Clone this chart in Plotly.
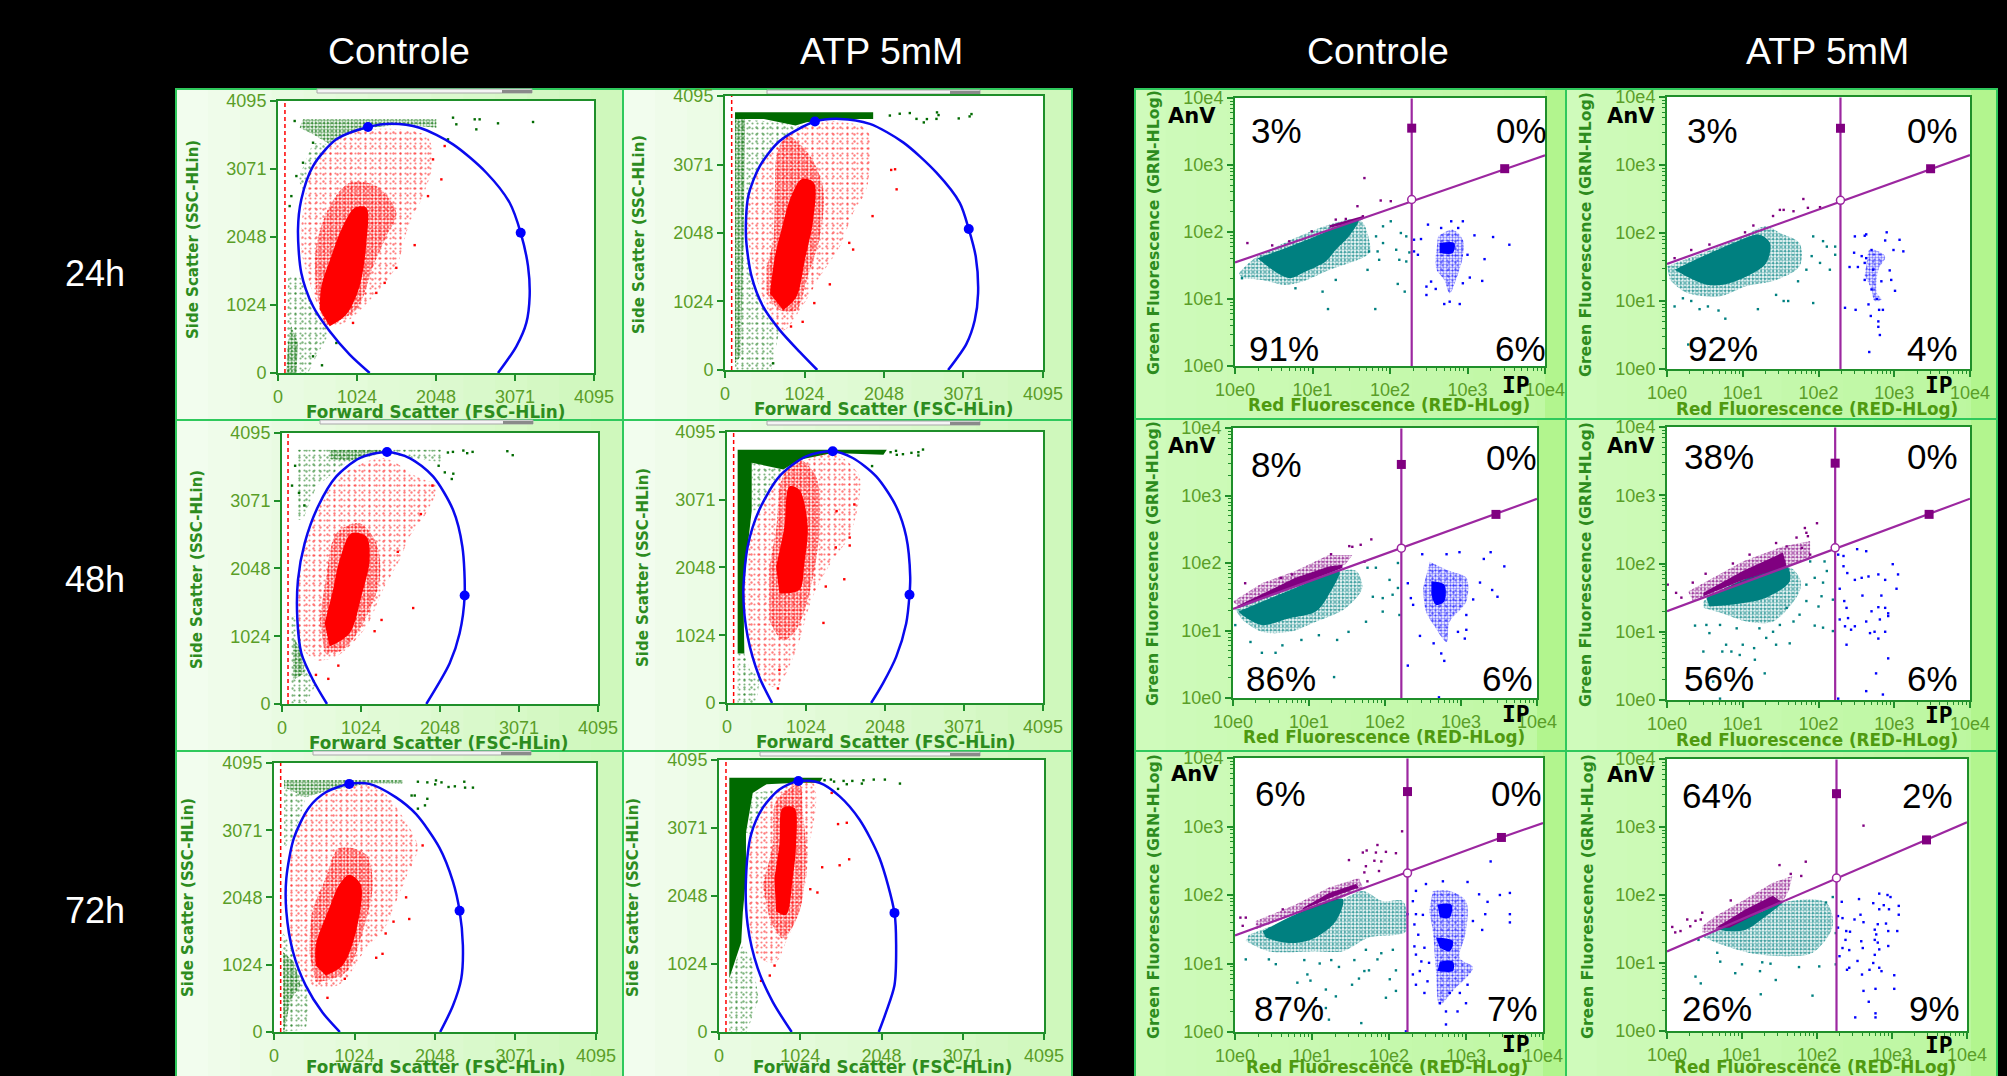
import plotly.graph_objects as go

W, H = 2007, 1076
row_labels = ["24h", "48h", "72h"]
col_labels = ["Controle", "ATP 5mM", "Controle", "ATP 5mM"]
lin_ticks = [0, 1024, 2048, 3071, 4095]
log_ticks = [1, 10, 100, 1000, 10000]
log_text = ["10e0", "10e1", "10e2", "10e3", "10e4"]

# ---------- Forward / side scatter panels: values in channel units ----------
S24C_gate = [(1188,0),(929,276),(670,628),(454,1005),(302,1507),(259,2161),(302,2613),(454,3116),(756,3518),(1166,3704),(1469,3754),(1836,3693),(2268,3442),(2700,3015),(3002,2563),(3145,2111),(3240,1608),(3261,1156),(3218,754),(3089,402),(2851,0)]
S24C_handles = [(1166,3704),(3145,2111)]
S24C_thresh = 90
S24C_core = [(670,703),(885,879),(1058,1307),(1145,1960),(1145,2487),(994,2487),(821,2161),(691,1759),(562,1307),(540,955)]
S24C_mid = [(605,703),(1015,955),(1231,1608),(1404,2060),(1533,2412),(1274,2814),(929,2864),(670,2513),(497,1910),(497,1206)]
S24C_outer = [(302,2211),(454,3116),(756,3518),(1188,3668),(1922,3568),(2009,3216),(1879,2663),(1706,2261),(1533,1608),(1274,1206),(929,804),(670,703),(454,1206),(302,1809)]
S24C_red = [(2117,2915),(2009,3216),(1944,2663),(1771,1925),(1533,1583),(1382,1357),(1274,1206),(972,754),(2160,3417)]
S24C_green_dense = []
S24C_green_mid = [[(324,3819),(2052,3819),(2052,3693),(1620,3744),(1188,3693),(842,3568),(670,3442),(454,3593),(281,3693)],[(108,0),(238,0),(259,452),(173,703),(130,452)]]
S24C_green_sparse = [[(454,3467),(670,3442),(497,3166),(324,2764),(259,2915)],[(130,1457),(281,1457),(454,1005),(670,603),(497,251),(389,0),(108,0)]]
S24C_green = [(2268,3844),(2311,3744),(2549,3819),(2613,3819),(2851,3759),(3305,3779),(2570,3668),(2203,3518),(756,452),(570,116),(454,251),(151,2513),(238,2965),(324,3166),(454,3467),(216,3794),(173,2663)]

S24A_gate = [(1188,0),(965,266),(708,592),(493,943),(343,1395),(270,1997),(300,2600),(450,3051),(708,3427),(1158,3713),(1479,3753),(1865,3678),(2294,3402),(2723,2950),(3023,2499),(3139,2107),(3229,1696),(3259,1144),(3216,743),(3109,391),(2873,0)]
S24A_handles = [(1158,3713),(3139,2107)]
S24A_thresh = 86
S24A_core = [(750,893),(921,1094),(1029,1646),(1136,2248),(1145,2800),(986,2850),(836,2549),(750,2198),(643,1696),(579,1144)]
S24A_mid = [(536,1144),(708,893),(921,893),(1051,1345),(1222,1997),(1265,2700),(1094,3202),(793,3503),(665,3202),(643,2700),(622,1947),(536,1546)]
S24A_outer = [(300,2600),(450,3051),(708,3427),(1158,3703),(1822,3603),(1865,3252),(1822,2700),(1651,2348),(1479,1847),(1222,1395),(965,893),(750,592),(536,943),(365,1546),(270,2098)]
S24A_red = [(2190,3000),(2210,2700),(2140,2990),(1900,2300),(1650,1800),(1600,1900),(1350,1280),(1150,1000),(850,650),(1000,720)]
S24A_green_dense = [[(129,3853),(1908,3853),(1908,3753),(1394,3753),(1050,3703),(908,3653),(500,3753),(129,3753)]]
S24A_green_mid = [[(129,3750),(260,3750),(240,2000),(220,1000),(200,200),(129,100)]]
S24A_green_sparse = [[(129,3750),(1000,3680),(700,3430),(450,3050),(300,2600),(270,2000),(340,1400),(490,940),(700,600),(600,0),(129,0)]]
S24A_green = [(2123,3803),(2250,3830),(2380,3840),(2466,3753),(2560,3700),(2600,3750),(2723,3753),(2750,3810),(2730,3850),(3010,3760),(3150,3790),(3174,3825),(620,100)]

S48C_gate = [(583,0),(402,363),(251,767),(199,1271),(207,1876),(294,2431),(467,2985),(704,3439),(1007,3717),(1361,3807),(1654,3717),(1957,3439),(2216,2935),(2337,2380),(2367,1639),(2302,1069),(2173,615),(1870,0)]
S48C_handles = [(1361,3807),(2367,1639)]
S48C_thresh = 78
S48C_core = [(618,867),(877,1069),(1028,1624),(1136,2179),(1093,2531),(898,2582),(747,2179),(661,1725),(553,1220)]
S48C_mid = [(553,767),(790,817),(1050,1220),(1266,1876),(1222,2431),(1007,2733),(704,2582),(575,1926),(488,1271)]
S48C_outer = [(250,2279),(488,2985),(747,3439),(1309,3717),(1741,3439),(2000,3288),(1870,2885),(1654,2531),(1525,2179),(1309,1725),(1093,1170),(704,716),(445,666),(250,867),(207,1775)]
S48C_red = [(1700,1450),(1290,1270),(1500,2300),(1950,3300),(1800,2870),(440,440),(600,380),(730,580),(1200,1100)]
S48C_green_dense = []
S48C_green_mid = [[(620,3840),(1300,3840),(1300,3800),(900,3680),(620,3700)],[(142,1018),(250,817),(294,464),(142,363)]]
S48C_green_sparse = [[(186,3843),(2086,3843),(2086,3641),(1309,3792),(833,3641),(445,3288),(272,2784),(186,2784)],[(121,1321),(207,1321),(272,667),(445,313),(315,10),(121,10)]]
S48C_green = [(2150,3800),(2215,3810),(2350,3830),(2400,3790),(2470,3810),(2920,3820),(2990,3760),(2220,3480),(2110,3500),(2200,3400),(2030,3600),(170,3600),(130,3300),(220,3190),(290,3000)]

S48A_gate = [(584,0),(419,394),(268,1000),(212,1657),(268,2364),(419,2919),(679,3424),(1025,3727),(1370,3803),(1630,3702),(1933,3424),(2192,2970),(2322,2515),(2374,1909),(2365,1636),(2322,1202),(2192,697),(2019,293),(1868,0)]
S48A_handles = [(1370,3803),(2365,1636)]
S48A_thresh = 86
S48A_core = [(679,1657),(938,1707),(1003,2111),(1046,2667),(938,3222),(808,3273),(744,2667),(636,2061)]
S48A_mid = [(549,1252),(722,949),(895,1101),(1068,1657),(1198,2616),(1154,3424),(938,3677),(722,3424),(636,2616),(549,2061)]
S48A_outer = [(268,2364),(419,2919),(679,3424),(1370,3778),(1717,3424),(1717,3121),(1587,2515),(1370,2162),(1111,1606),(895,798),(636,242),(419,394),(268,1000),(212,1657)]
S48A_red = [(1520,1870),(1280,1760),(1250,1210),(1410,2350),(1590,2380),(1590,2500),(1420,2900),(1650,3000),(680,500),(660,220)]
S48A_green_dense = [[(138,3828),(2071,3828),(2027,3752),(1370,3778),(938,3677),(730,3530),(320,3630),(320,2900),(268,2364),(212,1657),(225,747),(138,747)]]
S48A_green_mid = []
S48A_green_sparse = [[(320,3630),(730,3530),(419,2919),(320,2900)],[(138,747),(225,747),(300,500),(430,400),(380,0),(138,0)]]
S48A_green = [(2120,3790),(2200,3750),(2190,3810),(2280,3760),(2390,3780),(2480,3790),(2480,3740),(2540,3830),(1880,3580)]

S72C_gate = [(838,0),(617,297),(404,706),(242,1218),(157,1832),(157,2344),(255,2958),(446,3419),(659,3649),(957,3777),(1212,3777),(1552,3572),(1807,3316),(2105,2804),(2275,2293),(2360,1847),(2402,1320),(2381,809),(2275,399),(2113,0)]
S72C_handles = [(957,3777),(2360,1847)]
S72C_thresh = 85
S72C_core = [(659,860),(872,1013),(1042,1523),(1105,2242),(957,2395),(829,2242),(702,1883),(531,1320),(531,1013)]
S72C_mid = [(531,757),(914,911),(1127,1523),(1254,2242),(1169,2702),(829,2804),(659,2344),(489,1832),(446,1220)]
S72C_outer = [(191,2600),(361,3218),(659,3623),(1297,3726),(1722,3111),(1828,2804),(1679,2344),(1552,1986),(1382,1525),(1169,1269),(872,757),(574,655),(361,911),(191,1576),(170,2088)]
S72C_red = [(1720,1720),(1380,1190),(1300,1130),(1520,1680),(1420,1500),(1680,2050),(680,520),(900,810),(1890,2840)]
S72C_green_dense = []
S72C_green_mid = [[(128,3838),(1637,3838),(1637,3777),(1212,3787),(659,3670),(404,3572),(128,3726)],[(115,1218),(255,1064),(340,706),(212,500),(128,0),(115,0)]]
S72C_green_sparse = [[(128,3726),(404,3572),(255,2958),(128,2800)],[(106,1525),(212,1320),(404,706),(446,400),(404,40),(128,0)]]
S72C_green = [(1830,3810),(1950,3800),(2050,3770),(2060,3830),(2130,3800),(2220,3730),(2300,3740),(2430,3720),(2530,3720),(2420,3810),(1830,3400),(1750,3600),(1950,3550),(1920,3450),(1790,3600)]

S72A_gate = [(916,0),(677,453),(488,957),(361,1612),(340,2317),(404,2972),(551,3375),(761,3652),(1000,3778),(1265,3753),(1517,3552),(1770,3199),(2022,2620),(2211,1793),(2232,1310),(2211,705),(2106,302),(2013,0)]
S72A_handles = [(1000,3778),(2211,1793)]
S72A_thresh = 88
S72A_core = [(719,1814),(845,1763),(929,2317),(971,2821),(950,3375),(803,3375),(761,2821),(698,2317)]
S72A_mid = [(635,1713),(803,1411),(1013,1814),(1097,2670),(1055,3325),(1013,3728),(719,3476),(677,2821),(551,2216)]
S72A_outer = [(361,2317),(425,2972),(719,3627),(1181,3753),(1223,3426),(1139,2821),(1097,2317),(1013,1814),(845,1360),(719,1058),(509,1108),(383,1612)]
S72A_red = [(1610,3150),(1500,3130),(1640,2600),(1520,2510),(1300,2480),(1240,2100),(1150,2150),(700,1000),(640,850),(530,770),(1420,3600)]
S72A_green_dense = [[(130,3829),(1307,3829),(1265,3753),(1000,3753),(600,3730),(425,3600),(340,3000),(340,2317),(300,1800),(280,1350),(130,811)]]
S72A_green_mid = []
S72A_green_sparse = [[(425,3600),(761,3652),(551,3375),(404,2972),(340,3000)],[(130,811),(290,1300),(420,1100),(500,500),(350,0),(130,0)]]
S72A_green = [(1330,3790),(1410,3800),(1450,3770),(1570,3780),(1610,3730),(1680,3780),(1800,3740),(1820,3790),(1950,3800),(2090,3800),(2280,3740),(1500,3660)]

# ---------- Fluorescence panels: values are decades (log10 of the channel) ----------
F24C_vert = (2.28, 3.55, 2.485)
F24C_diag = [(0,1.545),(3.48,2.945),(4,3.145)]
F24C_teal_core = [(.29,1.61),(.655,1.76),(1.04,1.935),(1.43,2.135),(1.60,2.185),(1.47,1.935),(1.30,1.735),(1.17,1.56),(.91,1.41),(.70,1.31),(.48,1.435)]
F24C_teal_mid = [(.05,1.385),(.29,1.635),(1.60,2.185),(1.73,1.885),(1.73,1.685),(1.22,1.435),(.87,1.26),(.655,1.21),(.35,1.285),(.09,1.31)]
F24C_teal = [(1.91,2.085),(2.01,2.16),(1.82,1.935),(1.91,1.835),(1.84,1.71),(1.73,1.71),(2.08,1.735),(2.14,1.985),(2.21,1.935),(2.25,1.695),(2.12,1.585),(2.21,1.56),(2.10,1.225),(2.19,1.11),(1.81,.85),(1.20,.85),(1.30,1.285),(1.13,1.11),(.78,1.16),(1.71,1.435),(1.86,1.585),(.09,1.31)]
F24C_purple_core = [(1.22,2.06),(1.22,2.10),(1.65,2.24),(1.65,2.19)]
F24C_purple_mid = []
F24C_purple = [(.16,1.835),(.48,1.8),(.99,2.01),(1.30,2.185),(1.67,2.805),(1.88,2.47),(2.01,2.46),(1.58,2.385),(1.65,2.235),(1.43,2.195),(.70,1.86)]
F24C_blue_core = [(2.64,1.835),(2.83,1.835),(2.81,1.685),(2.64,1.685)]
F24C_blue_mid = [(2.62,1.935),(2.81,2.035),(2.94,1.885),(2.94,1.635),(2.85,1.285),(2.77,1.085),(2.70,1.285),(2.60,1.435),(2.59,1.635)]
F24C_blue = [(2.49,2.11),(2.66,2.06),(2.79,2.16),(2.94,2.16),(2.88,2.06),(3.09,1.95),(3.33,1.925),(3.54,1.81),(3.0,1.66),(3.22,1.595),(3.19,1.27),(3.03,1.32),(2.94,1.235),(2.53,1.26),(2.47,1.185),(2.47,1.06),(2.59,1.15),(2.70,.925),(2.77,.96),(2.90,.925),(2.31,1.885),(2.40,1.895),(2.36,1.66),(2.31,1.71)]

F24A_vert = (2.29, 3.54, 2.48)
F24A_diag = [(0,1.545),(3.48,2.945),(4,3.145)]
F24A_teal_core = [(.10,1.46),(.48,1.66),(.87,1.85),(1.22,1.975),(1.36,1.85),(1.31,1.56),(1.05,1.36),(.74,1.24),(.52,1.24),(.26,1.36)]
F24A_teal_mid = [(0,1.51),(.92,1.90),(1.31,2.10),(1.49,2.0),(1.75,1.85),(1.75,1.51),(1.44,1.31),(1.05,1.22),(.70,1.07),(.26,1.12),(.04,1.31)]
F24A_teal = [(.10,.92),(.21,1.04),(.32,1.0),(.43,.88),(.54,.92),(.68,.86),(.77,.74),(1.20,.88),(1.44,1.09),(1.54,1.0),(1.60,1.0),(1.93,.97),(1.93,1.95),(2.06,1.88),(2.11,1.80),(2.22,1.80),(1.91,1.66),(2.02,1.56),(2.15,1.46),(1.84,1.46),(1.73,1.29),(2.22,1.68),(.28,.36)]
F24A_purple_core = []
F24A_purple_mid = []
F24A_purple = [(.10,1.63),(.32,1.75),(.56,1.83),(1.03,2.01),(1.14,2.11),(1.40,2.25),(1.49,2.34),(1.54,2.34),(1.67,2.32),(1.86,2.37),(1.80,2.50),(2.02,2.38)]
F24A_blue_core = []
F24A_blue_mid = [(2.66,1.75),(2.75,1.75),(2.88,1.65),(2.79,1.46),(2.77,1.12),(2.83,1.02),(2.74,1.0),(2.70,1.17),(2.61,1.37)]
F24A_blue = [(2.48,1.95),(2.61,1.96),(2.63,1.98),(2.90,2.01),(2.88,1.89),(3.07,1.90),(2.99,1.75),(3.12,1.73),(2.47,1.71),(2.57,1.66),(2.63,1.63),(2.41,1.5),(2.52,1.5),(2.61,1.56),(2.72,1.46),(2.70,1.75),(2.61,1.31),(2.83,1.29),(2.96,1.31),(3.01,1.15),(2.94,1.45),(2.35,.90),(2.49,.87),(2.66,.95),(2.69,.78),(2.79,.70),(2.79,.62),(2.81,.50),(2.67,.25),(2.80,.87),(2.85,.87),(2.77,1.03),(2.70,1.17)]

F48C_vert = (2.215, 3.46, 2.22)
F48C_diag = [(0,1.32),(3.46,2.72),(4,2.95)]
F48C_teal_core = [(.07,1.28),(.82,1.63),(1.40,1.88),(1.26,1.53),(1.09,1.28),(.74,1.18),(.38,1.08),(.12,1.23)]
F48C_teal_mid = [(.03,1.31),(1.40,1.88),(1.62,1.88),(1.70,1.63),(1.48,1.33),(1.09,1.13),(.74,.98),(.38,.98),(.12,1.16)]
F48C_teal = [(1.77,1.93),(1.88,1.93),(2.06,1.75),(2.17,2.0),(2.17,1.63),(2.10,1.53),(1.97,1.48),(1.84,1.50),(1.97,1.28),(1.75,1.13),(1.52,.98),(1.37,.86),(1.13,.93),(.90,.86),(.65,.78),(.56,.67),(.38,.67),(.23,.83),(1.33,.31),(2.19,1.23),(.03,1.08)]
F48C_purple_core = [(.07,1.37),(.82,1.78),(1.26,1.95),(1.44,1.975),(1.44,1.925),(.07,1.33)]
F48C_purple_mid = [(0,1.43),(.38,1.70),(.82,1.88),(1.26,2.12),(1.57,2.12),(1.48,1.98),(.07,1.35)]
F48C_purple = [(.16,1.70),(.63,1.78),(.78,1.83),(1.29,2.13),(1.53,2.25),(1.57,2.24),(1.68,2.27),(1.82,2.35),(1.73,2.02)]
F48C_blue_core = [(2.61,1.73),(2.78,1.68),(2.78,1.43),(2.67,1.38),(2.61,1.53)]
F48C_blue_mid = [(2.59,2.02),(2.85,1.88),(3.07,1.78),(3.07,1.43),(2.85,1.13),(2.81,.83),(2.67,1.03),(2.54,1.28),(2.50,1.63)]
F48C_blue = [(2.49,2.13),(2.81,2.13),(2.98,2.16),(3.25,1.71),(3.30,2.06),(3.39,2.16),(3.57,1.95),(3.41,1.60),(3.48,1.50),(3.16,1.46),(2.30,1.70),(2.34,1.48),(2.37,1.38),(2.46,.92),(2.64,.81),(2.74,.66),(2.78,.55),(2.30,.48),(2.71,.01),(2.96,.98),(3.07,1.01),(3.05,.88),(3.07,1.23)]

F48A_vert = (2.22, 3.47, 2.23)
F48A_diag = [(0,1.30),(3.46,2.72),(4,2.95)]
F48A_teal_core = [(.52,1.50),(1.0,1.76),(1.58,1.96),(1.62,1.74),(1.31,1.50),(.87,1.40),(.56,1.37)]
F48A_teal_mid = [(.48,1.45),(1.58,1.96),(1.75,1.79),(1.75,1.59),(1.40,1.15),(1.05,1.15),(.78,1.25),(.48,1.35)]
F48A_teal = [(.37,1.09),(.52,1.10),(.56,.98),(.48,.71),(.73,.71),(.78,.81),(.85,.71),(.96,.66),(1.0,.81),(1.16,.59),(1.29,.39),(1.15,.76),(1.44,.81),(1.62,.83),(1.40,1.0),(1.31,.91),(1.49,1.10),(1.67,1.15),(1.75,1.25),(1.84,1.45),(1.95,1.79),(1.84,1.69),(2.06,1.72),(2.11,1.89),(2.08,2.03),(1.89,2.03),(2.04,1.52),(2.0,1.37),(1.95,1.09),(2.06,1.06),(2.19,1.01),(.61,.27),(.70,.02),(2.19,1.47),(1.58,1.35),(1.22,1.05),(.92,1.05),(.70,1.10)]
F48A_purple_core = [(.48,1.57),(1.0,1.89),(1.53,2.16),(1.58,1.96),(1.0,1.76),(.48,1.52)]
F48A_purple_mid = [(.28,1.59),(.61,1.79),(1.0,2.03),(1.53,2.25),(1.89,2.33),(1.89,2.08),(1.58,1.96),(.34,1.45)]
F48A_purple = [(.01,1.69),(.12,1.57),(.19,1.50),(.34,1.72),(.51,1.85),(1.09,2.13),(.87,2.0),(1.44,2.30),(1.58,2.25),(1.71,2.38),(1.82,2.52),(1.98,2.59),(1.86,2.40),(1.78,2.23),(1.89,2.13),(1.84,2.45)]
F48A_blue_core = []
F48A_blue_mid = []
F48A_blue = [(2.26,2.13),(2.33,2.11),(2.33,1.96),(2.38,1.86),(2.51,2.21),(2.63,2.18),(2.48,1.76),(2.57,1.79),(2.66,1.81),(2.79,1.84),(2.88,1.76),(2.98,1.99),(3.05,1.84),(3.03,1.63),(2.83,1.53),(2.58,1.53),(2.28,1.63),(2.34,1.45),(2.37,1.35),(2.39,1.20),(2.28,1.18),(2.35,1.08),(2.43,1.03),(2.48,1.08),(2.37,.81),(2.63,1.15),(2.70,1.30),(2.79,1.36),(2.92,1.27),(2.92,1.23),(2.88,1.35),(2.81,1.18),(2.68,.98),(2.74,1.0),(2.79,.90),(2.88,1.0),(2.92,.61),(2.76,.39),(2.63,.13),(2.85,.08),(2.26,.02)]

F72C_vert = (2.24, 3.51, 2.32)
F72C_diag = [(0,1.41),(3.46,2.84),(4,3.05)]
F72C_teal_core = [(.36,1.47),(.79,1.72),(1.40,1.94),(1.31,1.62),(1.05,1.38),(.79,1.30),(.53,1.33),(.40,1.38)]
F72C_teal_mid = [(.18,1.42),(1.40,1.94),(1.66,2.06),(1.92,1.91),(2.18,1.91),(2.22,1.47),(1.74,1.38),(1.40,1.18),(1.05,1.18),(.44,1.18),(.14,1.33)]
F72C_teal = [(.14,1.06),(.44,1.06),(.53,.99),(.81,.72),(.94,.84),(.98,.75),(1.18,.62),(1.31,.52),(1.52,.69),(1.61,.78),(1.68,.89),(2.01,.77),(1.96,.50),(2.09,.60),(1.64,.13),(1.22,.18),(1.18,.35),(1.05,.47),(2.09,.90),(1.74,.90),(1.85,1.06),(1.10,1.0),(1.25,1.05),(1.35,.95),(1.55,1.05),(.9,1.05),(1.7,1.2),(1.9,1.15),(2.05,1.2)]
F72C_purple_core = [(.88,1.81),(1.22,2.03),(1.57,2.16),(1.61,2.11),(1.31,1.99),(.88,1.79)]
F72C_purple_mid = [(.27,1.62),(.79,1.86),(1.22,2.11),(1.61,2.25),(1.66,2.11),(1.40,1.96),(.79,1.72),(.27,1.50)]
F72C_purple = [(.07,1.67),(.14,1.67),(.10,1.55),(.62,1.79),(1.48,2.51),(1.66,2.62),(1.71,2.65),(1.85,2.73),(1.83,2.62),(1.96,2.63),(2.09,2.61),(1.90,2.49),(1.81,2.50),(1.70,2.42),(1.68,2.33),(1.72,2.20),(2.17,2.93),(1.87,2.35)]
F72C_blue_core = [(2.63,1.86),(2.81,1.86),(2.79,1.67),(2.66,1.67),None,(2.61,1.38),(2.83,1.33),(2.79,1.18),(2.66,1.23),None,(2.66,1.03),(2.83,1.03),(2.83,.89),(2.63,.89)]
F72C_blue_mid = [(2.57,2.06),(2.79,2.06),(3.0,1.91),(3.0,1.47),(2.92,1.08),(3.09,.94),(2.83,.60),(2.66,.40),(2.61,.89),(2.57,1.47),(2.52,1.77)]
F72C_blue = [(2.31,1.91),(2.35,2.06),(2.48,2.16),(2.70,2.20),(3.02,2.19),(3.17,2.01),(3.28,1.90),(3.44,2.0),(3.57,2.03),(3.32,2.49),(3.57,1.72),(3.57,1.60),(3.21,1.49),(3.25,1.72),(3.09,1.62),(2.24,1.72),(2.35,1.72),(2.44,1.71),(2.33,1.57),(2.38,1.42),(2.33,1.25),(2.46,1.23),(2.35,1.13),(2.42,1.03),(2.52,1.01),(2.31,.84),(2.40,.89),(2.50,.74),(2.35,.69),(2.46,.57),(2.66,.42),(2.74,.30),(2.74,.11),(2.89,.30),(3.0,.42),(2.92,.57),(3.02,.69),(2.79,.57),(2.22,.01)]

F72A_vert = (2.26, 3.49, 2.25)
F72A_diag = [(0,1.17),(3.46,2.81),(4,3.07)]
F72A_teal_core = [(.69,1.49),(1.23,1.74),(1.54,1.89),(1.32,1.69),(1.05,1.49),(.78,1.47)]
F72A_teal_mid = [(.47,1.39),(1.54,1.89),(2.12,1.89),(2.21,1.54),(1.94,1.15),(1.58,1.10),(1.09,1.15),(.65,1.30)]
F72A_teal = [(.38,.80),(.45,.70),(.67,1.15),(.71,1.02),(.91,.85),(1.0,.98),(1.24,.88),(1.27,1.01),(1.38,.99),(1.25,.54),(1.45,.75),(1.76,.94),(1.94,.52),(2.03,.95),(2.25,.98),(2.21,1.97),(2.12,1.89),(.42,1.34),(2.25,1.44)]
F72A_purple_core = [(.65,1.52),(1.05,1.79),(1.41,1.99),(1.54,1.89),(1.23,1.74),(.83,1.52)]
F72A_purple_mid = [(.47,1.54),(.65,1.69),(1.05,1.94),(1.41,2.18),(1.67,2.28),(1.63,2.08),(1.54,1.89),(.69,1.49),(.47,1.44)]
F72A_purple = [(.07,1.53),(.11,1.45),(.18,1.47),(.27,1.64),(.31,1.54),(.38,1.62),(.47,1.74),(.45,1.64),(.85,1.92),(1.50,2.44),(1.85,2.49),(1.79,2.28),(1.65,2.31),(2.62,3.02)]
F72A_blue_core = []
F72A_blue_mid = []
F72A_blue = [(2.33,1.90),(2.28,1.69),(2.34,1.66),(2.50,1.64),(2.56,1.94),(2.75,1.88),(2.83,2.02),(2.94,2.0),(2.98,1.97),(2.89,1.85),(2.83,1.79),(2.96,1.79),(3.09,1.84),(3.09,1.71),(2.58,1.71),(2.62,1.60),(2.77,1.49),(2.81,1.57),(2.92,1.58),(2.95,1.47),(3.07,1.47),(2.28,1.52),(2.39,1.47),(2.44,1.46),(2.38,1.34),(2.59,1.32),(2.77,1.34),(2.79,1.42),(2.81,1.30),(2.61,1.22),(2.34,1.22),(2.43,1.19),(2.30,1.10),(2.54,1.03),(2.43,.93),(2.40,.90),(2.60,.83),(2.70,.90),(2.77,1.12),(2.83,1.20),(2.95,1.25),(2.75,1.0),(2.83,.93),(2.86,.88),(3.03,.82),(3.03,.62),(2.78,.62),(2.62,.59),(2.69,.43),(2.51,.20),(2.78,.26),(2.78,.20)]

pct_F24C = ["3%", "0%", "91%", "6%"]
pct_F24A = ["3%", "0%", "92%", "4%"]
pct_F48C = ["8%", "0%", "86%", "6%"]
pct_F48A = ["38%", "0%", "56%", "6%"]
pct_F72C = ["6%", "0%", "87%", "7%"]
pct_F72A = ["64%", "2%", "26%", "9%"]

# ---------- styles and layout in page pixels ----------
RED, GATE, DGREEN, TEAL, PURPLE, BLUE = "#ff0000", "#0a0aee", "#006a00", "#008080", "#800080", "#0000ff"
AXIS = "#1f8f2a"
TICKC = "#5a9e28"
TITLEC = "#2d8c1e"
LAB = "Liberation Sans"

fig = go.Figure()
shapes, anns = [], []
n_ax = 0

def P(x, y):
    return x / W, 1 - y / H

def text(s, x, y, size, color, family=LAB, bold=False, angle=0):
    px_, py_ = P(x, y)
    anns.append(dict(text=f"<b>{s}</b>" if bold else s, x=px_, y=py_, xref="paper", yref="paper",
                     showarrow=False, xanchor="center", yanchor="middle",
                     font=dict(size=size, color=color, family=family), textangle=angle))

def rect_shape(x0, x1, y0, y1, fill, line=None):
    pa, pb = P(x0, y0), P(x1, y1)
    shapes.append(dict(type="rect", xref="paper", yref="paper", x0=pa[0], x1=pb[0], y0=pb[1], y1=pa[1],
                       fillcolor=fill, line=line or dict(width=0), layer="below"))

def background(x0, x1, y0, y1, c0, c1, plot_right=None, strip=None):
    n = 14
    def mix(t):
        a = [int(c0[i:i+2], 16) for i in (1, 3, 5)]
        b = [int(c1[i:i+2], 16) for i in (1, 3, 5)]
        return "rgb(%d,%d,%d)" % tuple(a[k] + (b[k] - a[k]) * t for k in range(3))
    for i in range(n):
        rect_shape(x0 + (x1 - x0) * i / n, x0 + (x1 - x0) * (i + 1) / n + 1, y0, y1, mix(i / (n - 1)))
    if strip:
        rect_shape(plot_right, x1, y0, y1, strip)
    rect_shape(x0, x1, y0, y1, "rgba(0,0,0,0)", dict(color="#2fc95c", width=2))

def scrollbar(x0, x1, y):
    rect_shape(x0, x1, y, y + 4, "#f4f4f4", dict(color="#a8a8a8", width=1))
    rect_shape(x1 - 30, x1, y + 1, y + 4, "#8a8a8a")

def new_axes(rect, log):
    global n_ax
    n_ax += 1
    L, T, R, B = rect
    rect_shape(L, R, T, B, "white")
    common = dict(showgrid=False, zeroline=False, showline=True, mirror=True, linecolor=AXIS, linewidth=2,
                  ticks="outside", ticklen=6, tickwidth=1.5, tickcolor=AXIS,
                  tickfont=dict(size=18, color=TICKC, family=LAB), tickangle=0)
    if log:
        minors = [k * 10 ** e for e in range(4) for k in range(2, 10)]
        common.update(type="log", range=[0, 4], tickmode="array", tickvals=log_ticks, ticktext=log_text,
                      minor=dict(tickmode="array", tickvals=minors, ticks="outside", ticklen=3, tickcolor=AXIS, tickwidth=1))
    else:
        common.update(range=[0, 4095], tickmode="array", tickvals=lin_ticks, ticktext=[str(t) for t in lin_ticks])
    key = "" if n_ax == 1 else str(n_ax)
    fig.layout["xaxis" + key] = dict(common, domain=[L / W, R / W], anchor="y" + key)
    fig.layout["yaxis" + key] = dict(common, domain=[1 - B / H, 1 - T / H], anchor="x" + key)
    return "x" + key, "y" + key

def join(polys):
    xs, ys = [], []
    for poly in polys:
        for p in poly:
            if p is None:
                xs.append(None); ys.append(None)
            else:
                xs.append(p[0]); ys.append(p[1])
        xs.append(None); ys.append(None)
    return xs, ys

def area(polys, color, ax, patterns=None, log=False, smooth=True):
    xs, ys = join(polys)
    if not [v for v in xs if v is not None]:
        return
    if log:
        xs = [None if v is None else 10 ** v for v in xs]
        ys = [None if v is None else 10 ** v for v in ys]
    line = dict(width=0, color=color, shape="spline", smoothing=.9) if smooth else dict(width=0, color=color)
    for pat in (patterns or [None]):
        kw = dict(fillcolor=color) if pat is None else dict(
            fillcolor="rgba(0,0,0,0)",
            fillpattern=dict(shape=".", fgcolor=color, bgcolor="rgba(0,0,0,0)", size=pat[0], solidity=pat[1], fillmode="overlay"))
        fig.add_trace(go.Scatter(x=xs, y=ys, mode="lines", line=line, fill="toself",
                                 xaxis=ax[0], yaxis=ax[1], hoverinfo="skip", showlegend=False, **kw))

def dots(pts, color, ax, size=2.4, log=False):
    if not pts:
        return
    xs = [p[0] for p in pts]; ys = [p[1] for p in pts]
    if log:
        xs = [10 ** v for v in xs]; ys = [10 ** v for v in ys]
    fig.add_trace(go.Scatter(x=xs, y=ys, mode="markers", marker=dict(size=size, color=color, symbol="square", line_width=0),
                             xaxis=ax[0], yaxis=ax[1], hoverinfo="skip", showlegend=False))

SPARSE = [(7, .09), (5, .15)]
MID = [(3, .50), (4, .30)]

def scatter_panel(rect, xt, yt, gate, handles, thresh, core, mid, outer, red, gd, gm, gs, gp):
    ax = new_axes(rect, False)
    fig.add_trace(go.Scatter(x=[thresh, thresh], y=[0, 4095], mode="lines", line=dict(color=RED, width=1.5, dash="4px,3px"),
                             xaxis=ax[0], yaxis=ax[1], hoverinfo="skip", showlegend=False))
    area(gs, DGREEN, ax, SPARSE, smooth=False)
    area(gm, DGREEN, ax, MID, smooth=False)
    area(gd, DGREEN, ax, smooth=False)
    dots(gp, DGREEN, ax)
    area([outer], RED, ax, SPARSE)
    area([mid], RED, ax, MID)
    area([core], RED, ax)
    dots(red, RED, ax)
    fig.add_trace(go.Scatter(x=[p[0] for p in gate], y=[p[1] for p in gate], mode="lines",
                             line=dict(color=GATE, width=2.5, shape="spline", smoothing=.8),
                             xaxis=ax[0], yaxis=ax[1], hoverinfo="skip", showlegend=False))
    fig.add_trace(go.Scatter(x=[p[0] for p in handles], y=[p[1] for p in handles], mode="markers",
                             marker=dict(size=10, color=BLUE), xaxis=ax[0], yaxis=ax[1], hoverinfo="skip", showlegend=False))
    text("Forward Scatter (FSC-HLin)", xt[0], min(xt[1], 1067), 16.8, TITLEC, "DejaVu Sans", True)
    text("Side Scatter (SSC-HLin)", yt[0], yt[1], 15, TITLEC, "DejaVu Sans", True, -90)

def fluor_panel(rect, xt, yt, anv, ip, pct, pct_pos, vert, diag, tc, tm, tp, pc, pm, pp, bc, bm, bp):
    ax = new_axes(rect, True)
    area([tm], TEAL, ax, MID, log=True)
    area([tc], TEAL, ax, log=True)
    dots(tp, TEAL, ax, log=True)
    area([pm], PURPLE, ax, MID, log=True, smooth=False)
    area([pc], PURPLE, ax, log=True, smooth=False)
    dots(pp, PURPLE, ax, log=True)
    area([bm], BLUE, ax, SPARSE + MID[:1], log=True)
    area([bc], BLUE, ax, log=True)
    dots(bp, BLUE, ax, log=True)
    line = dict(color="#9c27a0", width=2.2)
    fig.add_trace(go.Scatter(x=[10 ** vert[0]] * 2, y=[1, 9800], mode="lines", line=line, xaxis=ax[0], yaxis=ax[1], hoverinfo="skip", showlegend=False))
    fig.add_trace(go.Scatter(x=[10 ** p[0] for p in diag], y=[10 ** p[1] for p in diag], mode="lines", line=line, xaxis=ax[0], yaxis=ax[1], hoverinfo="skip", showlegend=False))
    fig.add_trace(go.Scatter(x=[10 ** vert[0], 10 ** diag[1][0]], y=[10 ** vert[1], 10 ** diag[1][1]], mode="markers",
                             marker=dict(size=9, color=PURPLE, symbol="square"), xaxis=ax[0], yaxis=ax[1], hoverinfo="skip", showlegend=False))
    fig.add_trace(go.Scatter(x=[10 ** vert[0]], y=[10 ** vert[2]], mode="markers",
                             marker=dict(size=8, color="white", line=dict(color="#9c27a0", width=1.5)), xaxis=ax[0], yaxis=ax[1], hoverinfo="skip", showlegend=False))
    text("Red Fluorescence (RED-HLog)", xt[0], min(xt[1], 1067), 16.8, "#4f9a10", "DejaVu Sans", True)
    text("Green Fluorescence (GRN-HLog)", yt[0], yt[1], 15.7, TITLEC, "DejaVu Sans", True, -90)
    text("AnV", anv[0], anv[1], 21, "black", "DejaVu Sans", True)
    text("IP", ip[0], ip[1], 23, "black", "DejaVu Sans Mono", True)
    for s, p in zip(pct, pct_pos):
        text(s, p[0], p[1], 35, "black")

# Panel backgrounds
left_rows = [(89, 420), (420, 751), (751, 1078)]
right_rows = [(89, 419), (419, 751), (751, 1078)]
for y0, y1 in left_rows:
    background(176, 623, y0, y1, "#f2fdee", "#cff8bc")
    background(623, 1072, y0, y1, "#f2fdee", "#cff8bc")
for (y0, y1), pr in zip(right_rows, [1545, 1537, 1543]):
    background(1135, 1566, y0, y1, "#cffbbb", "#c0f8a4", pr, "#b2f58e")
    background(1566, 1997, y0, y1, "#cffbbb", "#bcf79f", 1971, "#b2f58e")
for bar in [(317, 532, 89), (767, 980, 90), (320, 533, 420), (767, 980, 421), (313, 531, 751), (760, 980, 752)]:
    scrollbar(*bar)

scatter_panel((278,101,594,373),(435,412),(193,240),S24C_gate,S24C_handles,S24C_thresh,S24C_core,S24C_mid,S24C_outer,S24C_red,S24C_green_dense,S24C_green_mid,S24C_green_sparse,S24C_green)
scatter_panel((725,96,1043,370),(883,409),(639,235),S24A_gate,S24A_handles,S24A_thresh,S24A_core,S24A_mid,S24A_outer,S24A_red,S24A_green_dense,S24A_green_mid,S24A_green_sparse,S24A_green)
scatter_panel((282,433,598,704),(438,743),(197,570),S48C_gate,S48C_handles,S48C_thresh,S48C_core,S48C_mid,S48C_outer,S48C_red,S48C_green_dense,S48C_green_mid,S48C_green_sparse,S48C_green)
scatter_panel((727,432,1043,703),(885,742),(643,568),S48A_gate,S48A_handles,S48A_thresh,S48A_core,S48A_mid,S48A_outer,S48A_red,S48A_green_dense,S48A_green_mid,S48A_green_sparse,S48A_green)
scatter_panel((274,763,596,1032),(435,1069),(188,898),S72C_gate,S72C_handles,S72C_thresh,S72C_core,S72C_mid,S72C_outer,S72C_red,S72C_green_dense,S72C_green_mid,S72C_green_sparse,S72C_green)
scatter_panel((719,760,1044,1032),(882,1070),(633,898),S72A_gate,S72A_handles,S72A_thresh,S72A_core,S72A_mid,S72A_outer,S72A_red,S72A_green_dense,S72A_green_mid,S72A_green_sparse,S72A_green)

fluor_panel((1235,98,1545,366),(1389,405),(1153,233),(1192,116),(1516,385),pct_F24C,[(1276,130),(1521,130),(1284,348),(1520,348)],F24C_vert,F24C_diag,F24C_teal_core,F24C_teal_mid,F24C_teal,F24C_purple_core,F24C_purple_mid,F24C_purple,F24C_blue_core,F24C_blue_mid,F24C_blue)
fluor_panel((1667,97,1970,369),(1817,409),(1586,235),(1631,116),(1939,385),pct_F24A,[(1712,131),(1932,131),(1723,348),(1932,348)],F24A_vert,F24A_diag,F24A_teal_core,F24A_teal_mid,F24A_teal,F24A_purple_core,F24A_purple_mid,F24A_purple,F24A_blue_core,F24A_blue_mid,F24A_blue)
fluor_panel((1233,428,1537,698),(1384,737),(1152,564),(1192,446),(1516,714),pct_F48C,[(1276,464),(1511,457),(1281,678),(1507,678)],F48C_vert,F48C_diag,F48C_teal_core,F48C_teal_mid,F48C_teal,F48C_purple_core,F48C_purple_mid,F48C_purple,F48C_blue_core,F48C_blue_mid,F48C_blue)
fluor_panel((1667,427,1970,700),(1817,740),(1585,565),(1631,446),(1939,715),pct_F48A,[(1719,456),(1932,456),(1719,678),(1932,678)],F48A_vert,F48A_diag,F48A_teal_core,F48A_teal_mid,F48A_teal,F48A_purple_core,F48A_purple_mid,F48A_purple,F48A_blue_core,F48A_blue_mid,F48A_blue)
fluor_panel((1235,758,1543,1032),(1387,1071),(1153,897),(1195,774),(1516,1044),pct_F72C,[(1280,793),(1516,793),(1289,1008),(1512,1008)],F72C_vert,F72C_diag,F72C_teal_core,F72C_teal_mid,F72C_teal,F72C_purple_core,F72C_purple_mid,F72C_purple,F72C_blue_core,F72C_blue_mid,F72C_blue)
fluor_panel((1667,759,1967,1031),(1815,1070),(1587,897),(1631,775),(1939,1045),pct_F72A,[(1717,795),(1927,795),(1717,1008),(1934,1008)],F72A_vert,F72A_diag,F72A_teal_core,F72A_teal_mid,F72A_teal,F72A_purple_core,F72A_purple_mid,F72A_purple,F72A_blue_core,F72A_blue_mid,F72A_blue)

for s, x in zip(col_labels, [399, 881, 1378, 1827]):
    text(s, x, 51, 37.5, "white")
for s, y in zip(row_labels, [273, 579, 910]):
    text(s, 95, y, 36, "white")

fig.update_layout(width=W, height=H, margin=dict(l=0, r=0, t=0, b=0, autoexpand=False), paper_bgcolor="black", plot_bgcolor="white",
                  shapes=shapes, annotations=anns, showlegend=False)
fig.write_html("out.html", config=dict(displayModeBar=False),
               post_script="document.body.style.margin='0';document.body.style.background='black';")
